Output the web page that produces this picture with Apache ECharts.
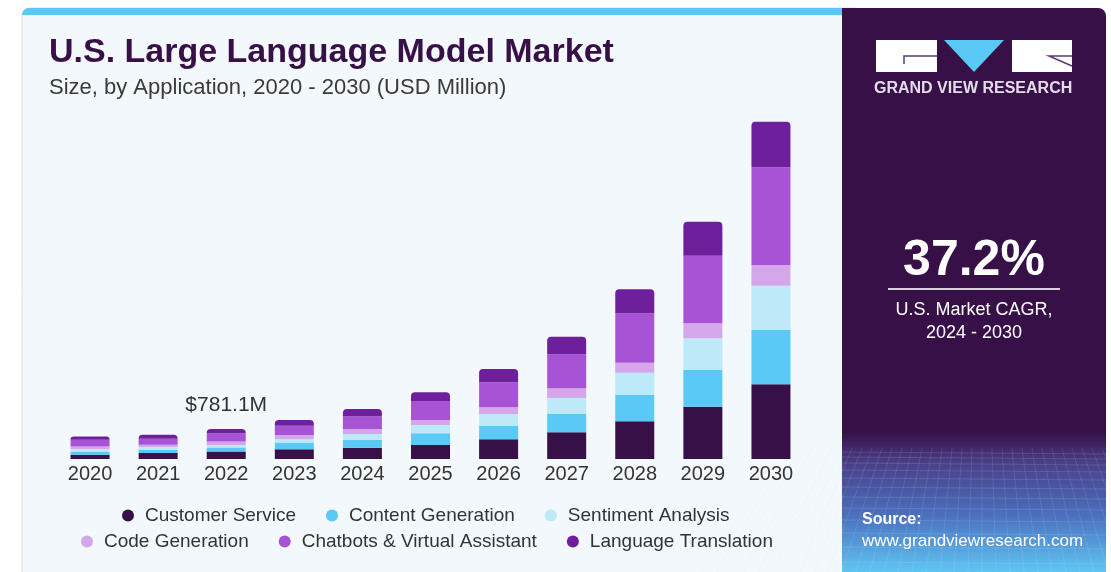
<!DOCTYPE html>
<html>
<head>
<meta charset="utf-8">
<title>U.S. Large Language Model Market</title>
<script src="https://cdn.jsdelivr.net/npm/echarts@6/dist/echarts.min.js"></script>
<style>
  html, body { margin: 0; padding: 0; background: #ffffff; }
  #chart { width: 1111px; height: 572px; }
</style>
</head>
<body>
<div id="chart"></div>
<script>
  // years on the x axis
  const years = ['2020', '2021', '2022', '2023', '2024', '2025', '2026', '2027', '2028', '2029', '2030'];

  // segment values, USD million
  const customerService = [112, 156, 193.1, 253, 294, 365, 513, 695, 982, 1362, 1945];
  const contentGeneration = [86, 86, 104, 174, 200, 305, 346, 477, 693, 963, 1414];
  const sentimentAnalysis = [60, 70, 70, 86, 160, 216, 312, 417, 573, 818, 1154];
  const codeGeneration = [70, 60, 86, 112, 130, 130, 174, 253, 260, 391, 539];
  const chatbots = [174, 156, 216, 242, 320, 495, 651, 885, 1286, 1760, 2544];
  const languageTranslation = [86, 104, 112, 148, 200, 227, 346, 458, 625, 885, 1187];

  const seriesNames = ['Customer Service', 'Content Generation', 'Sentiment Analysis',
    'Code Generation', 'Chatbots & Virtual Assistant', 'Language Translation'];
  const seriesColors = ['#371047', '#5bc9f5', '#bde9f8', '#d4a6ea', '#a653d6', '#6e209c'];
  const seriesData = [customerService, contentGeneration, sentimentAnalysis,
    codeGeneration, chatbots, languageTranslation];

  const labelledYear = '2022';

  let myChart = echarts.init(document.getElementById('chart'));

  // the little grid on the bottom of the right panel
  let meshLines = [];
  let meshY = [452, 457, 463, 470, 478, 487, 497, 508, 520, 533, 547, 562];
  meshY.forEach(function (y) {
    meshLines.push({
      type: 'line', silent: true, z: 1,
      shape: {x1: 842, y1: y, x2: 1106, y2: y + 2},
      style: {stroke: 'rgba(220,230,255,0.14)', lineWidth: 1}
    });
  });
  for (let i = -6; i <= 28; i++) {
    let xTop = 842 + i * 10;
    let xBot = 842 + (i - 4) * 14;
    meshLines.push({
      type: 'line', silent: true, z: 1,
      shape: {x1: xTop, y1: 448, x2: xBot, y2: 572},
      style: {stroke: 'rgba(220,230,255,0.12)', lineWidth: 1}
    });
  }

  let series = seriesNames.map(function (name, i) {
    let s = {
      name: name,
      type: 'bar',
      stack: 'total',
      barWidth: 39,
      z: 5,
      itemStyle: {color: seriesColors[i]},
      data: seriesData[i]
    };
    if (i === seriesNames.length - 1) {
      s.itemStyle.borderRadius = [4, 4, 0, 0];
      s.label = {
        show: true,
        position: 'top',
        distance: 13,
        color: '#333333',
        fontSize: 21,
        fontFamily: 'Liberation Sans',
        formatter: function (p) {
          if (years[p.dataIndex] !== labelledYear) return '';
          let total = 0;
          seriesData.forEach(function (arr) { total += arr[p.dataIndex]; });
          return '$' + total.toFixed(1) + 'M';
        }
      };
    }
    return s;
  });

  myChart.setOption({
    animation: false,
    backgroundColor: '#ffffff',
    textStyle: {fontFamily: 'Liberation Sans'},
    grid: {left: 56, width: 749, top: 100, bottom: 113},
    xAxis: {
      type: 'category',
      data: years,
      axisLine: {show: false},
      axisTick: {show: false},
      axisLabel: {color: '#333333', fontSize: 20, margin: 5}
    },
    yAxis: {
      type: 'value',
      min: 0,
      max: 9350,
      show: false
    },
    legend: [
      {
        data: seriesNames.slice(0, 3),
        left: 117, top: 501,
        icon: 'circle', itemWidth: 24, itemHeight: 12, itemGap: 30,
        textStyle: {color: '#333333', fontSize: 19}
      },
      {
        data: seriesNames.slice(3),
        left: 76, top: 527,
        icon: 'circle', itemWidth: 24, itemHeight: 12, itemGap: 30,
        textStyle: {color: '#333333', fontSize: 19}
      }
    ],
    graphic: [
      // left card
      {
        type: 'rect', silent: true, z: -10,
        shape: {x: 22, y: 8, width: 840, height: 590, r: 8},
        style: {fill: '#f3f8fc', stroke: '#d9dde2', lineWidth: 1}
      },
      {
        type: 'rect', silent: true, z: -9,
        shape: {x: 22, y: 8, width: 830, height: 7, r: [8, 0, 0, 0]},
        style: {fill: '#5bc9f5'}
      },
      // right panel
      {
        type: 'rect', silent: true, z: -8,
        shape: {x: 842, y: 8, width: 264, height: 590, r: [0, 8, 0, 0]},
        style: {fill: '#371047'}
      },
      {
        type: 'rect', silent: true, z: -7,
        shape: {x: 842, y: 432, width: 264, height: 140},
        style: {
          fill: new echarts.graphic.LinearGradient(0, 0, 0, 1, [
            {offset: 0, color: '#371047'},
            {offset: 0.22, color: '#4a3f88'},
            {offset: 0.6, color: '#4b70be'},
            {offset: 1, color: '#5ec6f2'}
          ])
        }
      },
      ...meshLines,
      // logo
      {
        type: 'rect', silent: true, z: 2,
        shape: {x: 876, y: 40, width: 61, height: 32},
        style: {fill: '#ffffff'}
      },
      {
        type: 'polyline', silent: true, z: 3,
        shape: {points: [[937, 56], [904, 56], [904, 64]]},
        style: {stroke: '#5a3a72', lineWidth: 1.5, fill: null}
      },
      {
        type: 'polygon', silent: true, z: 2,
        shape: {points: [[944, 40], [1004, 40], [974, 72]]},
        style: {fill: '#5bc9f5'}
      },
      {
        type: 'rect', silent: true, z: 2,
        shape: {x: 1012, y: 40, width: 60, height: 32},
        style: {fill: '#ffffff'}
      },
      {
        type: 'polyline', silent: true, z: 3,
        shape: {points: [[1072, 56], [1049, 56], [1072, 66]]},
        style: {stroke: '#5a3a72', lineWidth: 1.5, fill: null}
      },
      {
        type: 'text', silent: true, z: 3,
        left: 874, top: 81,
        style: {text: 'GRAND VIEW RESEARCH', fill: '#e2dde8', font: 'bold 16px "Liberation Sans"'}
      },
      // CAGR block
      {
        type: 'text', silent: true, z: 3,
        style: {
          x: 974, y: 261, text: '37.2%', fill: '#ffffff',
          font: 'bold 50px "Liberation Sans"', textAlign: 'center', textVerticalAlign: 'middle'
        }
      },
      {
        type: 'line', silent: true, z: 3,
        shape: {x1: 888, y1: 289, x2: 1060, y2: 289},
        style: {stroke: '#d8d0e0', lineWidth: 2}
      },
      {
        type: 'text', silent: true, z: 3,
        style: {
          x: 974, y: 310, text: 'U.S. Market CAGR,', fill: '#ffffff',
          font: '18px "Liberation Sans"', textAlign: 'center', textVerticalAlign: 'middle'
        }
      },
      {
        type: 'text', silent: true, z: 3,
        style: {
          x: 974, y: 333, text: '2024 - 2030', fill: '#ffffff',
          font: '18px "Liberation Sans"', textAlign: 'center', textVerticalAlign: 'middle'
        }
      },
      // source
      {
        type: 'text', silent: true, z: 3,
        style: {
          x: 862, y: 520, text: 'Source:', fill: '#ffffff',
          font: 'bold 16px "Liberation Sans"', textVerticalAlign: 'middle'
        }
      },
      {
        type: 'text', silent: true, z: 3,
        style: {
          x: 862, y: 541, text: 'www.grandviewresearch.com', fill: '#ffffff',
          font: '17px "Liberation Sans"', textVerticalAlign: 'middle'
        }
      },
      // titles
      {
        type: 'text', silent: true, z: 3,
        style: {
          x: 49, y: 53, text: 'U.S. Large Language Model Market', fill: '#371047',
          font: 'bold 34px "Liberation Sans"', textVerticalAlign: 'middle'
        }
      },
      {
        type: 'text', silent: true, z: 3,
        style: {
          x: 49, y: 88, text: 'Size, by Application, 2020 - 2030 (USD Million)', fill: '#3a3a3a',
          font: '22px "Liberation Sans"', textVerticalAlign: 'middle'
        }
      }
    ],
    series: series
  });
</script>
</body>
</html>
